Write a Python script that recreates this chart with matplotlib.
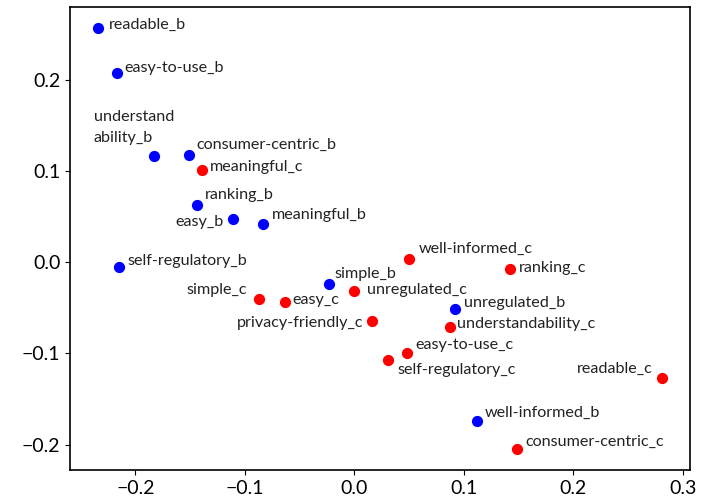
import matplotlib
matplotlib.use("Agg")
import matplotlib.pyplot as plt

plt.rcParams['font.family'] = ['Lato', 'DejaVu Sans']

# word embeddings projected to 2D, _b and _c variants
labels_b = ["readable_b", "easy-to-use_b", "understand\nability_b", "consumer-centric_b",
            "ranking_b", "easy_b", "meaningful_b", "self-regulatory_b", "simple_b",
            "unregulated_b", "well-informed_b"]
x_b = [-0.234, -0.217, -0.183, -0.151, -0.144, -0.111, -0.083, -0.215, -0.023, 0.092, 0.112]
y_b = [0.257, 0.208, 0.117, 0.118, 0.063, 0.048, 0.042, -0.005, -0.024, -0.051, -0.174]

labels_c = ["meaningful_c", "simple_c", "easy_c", "unregulated_c", "privacy-friendly_c",
            "well-informed_c", "ranking_c", "understandability_c", "easy-to-use_c",
            "self-regulatory_c", "readable_c", "consumer-centric_c"]
x_c = [-0.139, -0.087, -0.063, 0.000, 0.016, 0.050, 0.142, 0.087, 0.048, 0.031, 0.281, 0.149]
y_c = [0.101, -0.040, -0.043, -0.031, -0.064, 0.004, -0.007, -0.071, -0.100, -0.107, -0.127, -0.205]

# label placement (pixel offsets, alignment)
offsets = {
    "readable_b": (11, 3, "left"), "easy-to-use_b": (8, 5, "left"),
    "understand\nability_b": (-60, 11, "left"), "consumer-centric_b": (7, 10, "left"),
    "ranking_b": (8, 10, "left"), "easy_b": (-9, -3, "right"),
    "meaningful_b": (8, 9, "left"), "self-regulatory_b": (8, 6, "left"),
    "simple_b": (5, 10, "left"), "unregulated_b": (9, 6, "left"),
    "well-informed_b": (8, 8, "left"), "meaningful_c": (8, 3, "left"),
    "simple_c": (-12, 9, "right"), "easy_c": (7, 2, "left"),
    "unregulated_c": (13, 1, "left"), "privacy-friendly_c": (-8, -2, "right"),
    "well-informed_c": (10, 10, "left"), "ranking_c": (9, 1, "left"),
    "understandability_c": (7, 3, "left"), "easy-to-use_c": (9, 8, "left"),
    "self-regulatory_c": (9, -10, "left"), "readable_c": (-9, 9, "right"),
    "consumer-centric_c": (8, 7, "left"),
}

fig = plt.figure(figsize=(7.07, 5.04), dpi=100)
ax = fig.add_axes([0.099, 0.067, 0.877, 0.919])

ax.scatter(x_b, y_b, color="blue", s=50, zorder=3)
ax.scatter(x_c, y_c, color="red", s=50, zorder=3)

for lab, x, y in list(zip(labels_b, x_b, y_b)) + list(zip(labels_c, x_c, y_c)):
    dx, dy, ha = offsets[lab]
    if "\n" in lab:
        ax.annotate(lab, (x, y), xytext=(dx, dy), textcoords="offset pixels",
                    ha=ha, va="bottom", fontsize=11.6, linespacing=1.65, color="#222222")
    else:
        ax.annotate(lab, (x, y), xytext=(dx, dy), textcoords="offset pixels",
                    ha=ha, va="center", fontsize=11.6, color="#222222")

ax.set_xticks([-0.2, -0.1, 0.0, 0.1, 0.2, 0.3])
ax.set_yticks([-0.2, -0.1, 0.0, 0.1, 0.2])
ax.tick_params(labelsize=14)
for s in ax.spines.values():
    s.set_linewidth(1.2)

fig.savefig("out.png", dpi=100)
